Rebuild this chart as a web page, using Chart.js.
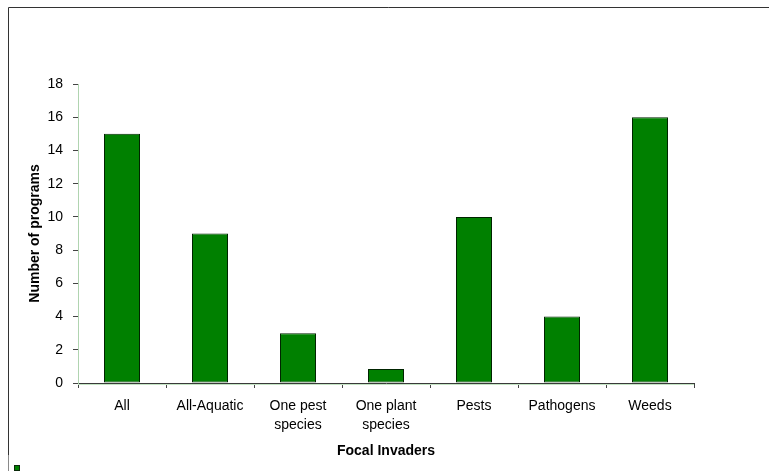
<!DOCTYPE html>
<html>
<head>
<meta charset="utf-8">
<script src="https://cdn.jsdelivr.net/npm/chart.js@4"></script>
<style>
  html, body { margin: 0; padding: 0; background: #ffffff; }
  #wrap { position: relative; width: 769px; height: 471px; }
</style>
</head>
<body>
<div id="wrap"><canvas id="chart" width="769" height="471"></canvas></div>
<script>
// Focal invader groups and how many programs target each
const categories = ['All', 'All-Aquatic', ['One pest', 'species'], ['One plant', 'species'], 'Pests', 'Pathogens', 'Weeds'];
const programCounts = [15, 9, 3, 0.85, 10, 4, 16];
const yTicks = { min: 0, max: 18, step: 2 };

const FONT = 'Liberation Sans, Arial, sans-serif';
const FONT_SIZE = 14;
const BAR_FILL = '#008000';
const BAR_EDGE = '#002400';

// Outer frame, x-axis shadow and the small legend key swatch
const framePlugin = {
  id: 'frame',
  afterDraw(chart) {
    const ctx = chart.ctx;
    const area = chart.chartArea;
    ctx.save();
    ctx.lineWidth = 1;
    ctx.strokeStyle = '#333333';
    ctx.beginPath();
    ctx.moveTo(8.5, 455);
    ctx.lineTo(8.5, 7.5);
    ctx.lineTo(769, 7.5);
    ctx.stroke();
    ctx.strokeStyle = '#8a8a8a';
    ctx.beginPath();
    ctx.moveTo(8.5, 455);
    ctx.lineTo(8.5, 471);
    ctx.stroke();
    // soft shadow under the category axis
    ctx.strokeStyle = '#c4e4c4';
    ctx.beginPath();
    ctx.moveTo(area.left, area.bottom + 1.5);
    ctx.lineTo(area.right, area.bottom + 1.5);
    ctx.stroke();
    // legend key
    ctx.fillStyle = BAR_FILL;
    ctx.fillRect(14, 465, 6, 6);
    ctx.strokeStyle = '#0a2a0a';
    ctx.strokeRect(14.5, 465.5, 5, 5);
    ctx.restore();
  }
};

new Chart(document.getElementById('chart'), {
  type: 'bar',
  data: {
    labels: categories,
    datasets: [{
      label: 'Number of programs',
      data: programCounts,
      backgroundColor: BAR_FILL,
      borderColor: BAR_EDGE,
      borderWidth: 1,
      borderSkipped: false,
      barPercentage: 36 / 88,
      categoryPercentage: 1.0
    }]
  },
  options: {
    responsive: false,
    animation: false,
    events: [],
    layout: { padding: { left: 0, top: 84, right: 75, bottom: 0 } },
    plugins: {
      legend: { display: false },
      tooltip: { enabled: false }
    },
    scales: {
      x: {
        afterFit(scale) { scale.height = 88; },
        grid: {
          display: true,
          drawOnChartArea: false,
          drawTicks: true,
          tickLength: 5,
          color: '#444444',
          offset: true
        },
        border: { display: true, color: '#3a3a3a', width: 1 },
        ticks: {
          color: '#000000',
          font: { family: FONT, size: FONT_SIZE, lineHeight: 1.36 },
          padding: 9,
          maxRotation: 0,
          autoSkip: false
        },
        title: {
          display: true,
          text: 'Focal Invaders',
          color: '#000000',
          font: { family: FONT, size: FONT_SIZE, weight: 'bold', lineHeight: 1.2 },
          padding: { top: 0, bottom: 11 }
        }
      },
      y: {
        min: yTicks.min,
        max: yTicks.max,
        afterFit(scale) { scale.width = 78; },
        grid: {
          display: true,
          drawOnChartArea: false,
          drawTicks: true,
          tickLength: 5,
          color: '#444444'
        },
        border: { display: true, color: '#b0d4b0', width: 1 },
        ticks: {
          stepSize: yTicks.step,
          color: '#000000',
          font: { family: FONT, size: FONT_SIZE },
          padding: 10
        },
        title: {
          display: true,
          text: 'Number of programs',
          color: '#000000',
          font: { family: FONT, size: FONT_SIZE, weight: 'bold', lineHeight: 1.2 },
          padding: { top: 27, bottom: 0 }
        }
      }
    }
  },
  plugins: [framePlugin]
});
</script>
</body>
</html>
